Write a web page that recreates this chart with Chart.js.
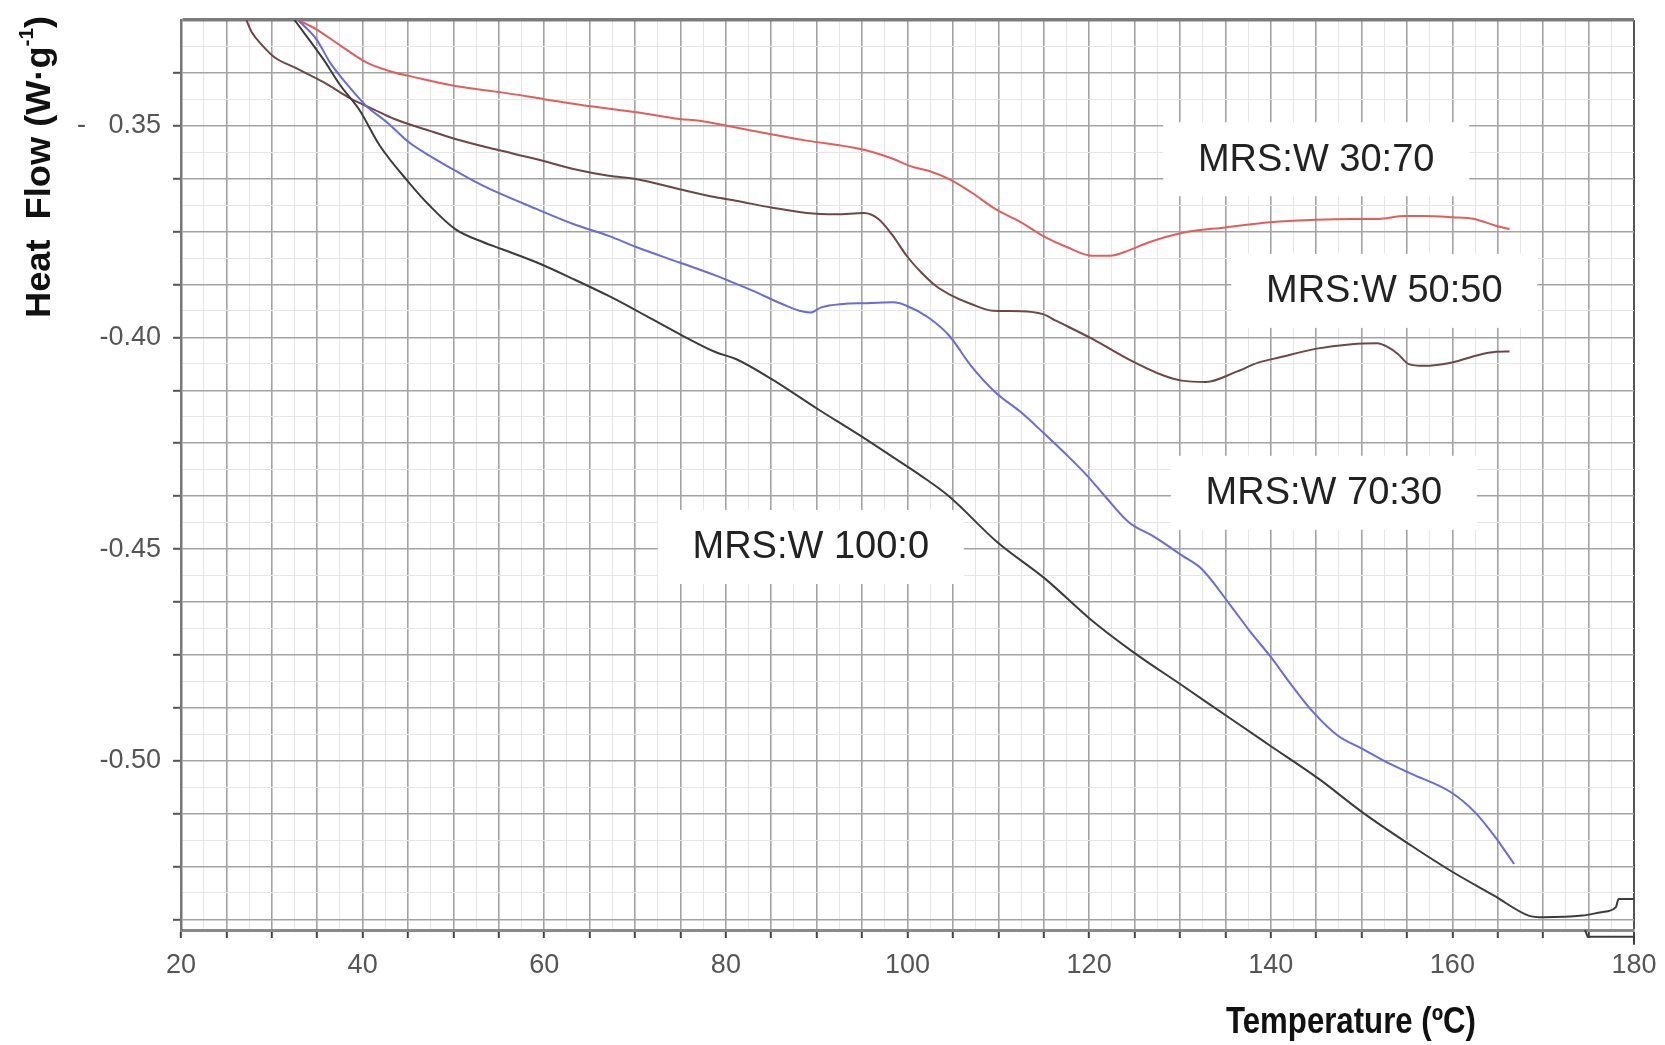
<!DOCTYPE html>
<html>
<head>
<meta charset="utf-8">
<script src="https://cdn.jsdelivr.net/npm/chart.js@4.4.0/dist/chart.umd.min.js"></script>
<style>
  html, body { margin: 0; padding: 0; background: #fff; }
</style>
</head>
<body>
<canvas id="chart" width="1665" height="1045"></canvas>
<script>
// DSC curves, temperature (°C) vs heat flow (W/g)
const t3070 = [32.9, 34.9, 37.6, 40.4, 43.5, 45.1, 50.2, 55.3, 60.0, 65.1, 70.2, 74.9, 77.1, 81.1, 85.0, 88.9, 94.8, 98.0, 100.7, 102.3, 104.6, 107.0, 109.7, 112.5, 114.9, 117.6, 120.4, 122.3, 124.3, 126.6, 130.2, 135.0, 140.2, 144.9, 148.9, 151.7, 154.8, 156.8, 160.0, 162.4, 164.8, 166.3];
const hf3070 = [-0.3250, -0.3272, -0.3311, -0.3350, -0.3374, -0.3382, -0.3406, -0.3421, -0.3437, -0.3454, -0.3468, -0.3484, -0.3488, -0.3504, -0.3520, -0.3535, -0.3555, -0.3575, -0.3598, -0.3606, -0.3626, -0.3657, -0.3697, -0.3728, -0.3760, -0.3787, -0.3807, -0.3807, -0.3795, -0.3775, -0.3753, -0.3740, -0.3727, -0.3722, -0.3720, -0.3720, -0.3713, -0.3713, -0.3716, -0.3720, -0.3736, -0.3744];

const t5050 = [27.2, 27.8, 29.0, 30.3, 32.9, 35.7, 38.8, 41.2, 43.5, 47.4, 50.2, 54.5, 59.2, 63.2, 67.1, 70.2, 74.9, 78.9, 81.1, 85.0, 88.9, 92.1, 95.2, 96.8, 98.4, 99.9, 101.5, 103.1, 104.6, 107.0, 109.4, 112.5, 114.9, 116.4, 120.4, 124.3, 128.2, 130.2, 132.9, 136.1, 138.7, 141.0, 144.9, 148.9, 151.7, 152.9, 154.0, 155.2, 156.8, 160.0, 162.8, 164.8, 166.3];
const hf5050 = [-0.3250, -0.3279, -0.3311, -0.3338, -0.3366, -0.3397, -0.3437, -0.3461, -0.3484, -0.3512, -0.3531, -0.3555, -0.3579, -0.3602, -0.3618, -0.3626, -0.3650, -0.3669, -0.3677, -0.3693, -0.3706, -0.3709, -0.3706, -0.3720, -0.3760, -0.3807, -0.3846, -0.3878, -0.3898, -0.3921, -0.3937, -0.3938, -0.3945, -0.3961, -0.4004, -0.4051, -0.4090, -0.4102, -0.4105, -0.4082, -0.4059, -0.4047, -0.4027, -0.4016, -0.4014, -0.4023, -0.4039, -0.4063, -0.4067, -0.4059, -0.4042, -0.4034, -0.4033];

const t7030 = [32.9, 34.9, 36.4, 38.4, 40.4, 42.7, 45.1, 47.4, 50.2, 53.3, 59.2, 63.2, 67.1, 70.2, 74.9, 78.9, 80.3, 83.0, 86.2, 88.1, 89.3, 90.5, 92.9, 95.2, 98.4, 99.9, 102.3, 104.6, 107.0, 109.7, 112.5, 114.9, 117.6, 119.8, 121.7, 124.4, 127.0, 130.3, 132.4, 135.6, 137.8, 139.9, 142.1, 144.7, 147.4, 150.1, 152.8, 155.5, 159.8, 162.5, 164.6, 166.8];
const hf7030 = [-0.3250, -0.3295, -0.3350, -0.3405, -0.3453, -0.3492, -0.3539, -0.3571, -0.3606, -0.3642, -0.3697, -0.3732, -0.3760, -0.3787, -0.3823, -0.3854, -0.3866, -0.3890, -0.3921, -0.3937, -0.3941, -0.3929, -0.3921, -0.3919, -0.3917, -0.3925, -0.3953, -0.3996, -0.4067, -0.4130, -0.4177, -0.4224, -0.4279, -0.4327, -0.4374, -0.4437, -0.4469, -0.4516, -0.4547, -0.4634, -0.4697, -0.4752, -0.4816, -0.4886, -0.4941, -0.4972, -0.5004, -0.5031, -0.5074, -0.5122, -0.5177, -0.5244];

const t1000 = [32.5, 35.65, 37.6, 39.6, 41.9, 45.1, 47.4, 50.2, 53.3, 55.3, 59.2, 63.2, 67.1, 70.2, 74.9, 78.9, 81.1, 85.0, 90.1, 94.8, 98.7, 101.5, 104.5, 109.9, 115.2, 120.1, 124.9, 130.3, 135.6, 139.9, 145.3, 150.1, 155.5, 159.8, 164.6, 168.4, 170.0, 174.3, 176.4, 178.0, 178.3, 180.0];
const hf1000 = [-0.3250, -0.3342, -0.3406, -0.3461, -0.3547, -0.3634, -0.3689, -0.3744, -0.3775, -0.3791, -0.3823, -0.3862, -0.3902, -0.3937, -0.3992, -0.4035, -0.4051, -0.4098, -0.4169, -0.4232, -0.4287, -0.4327, -0.4374, -0.4484, -0.4571, -0.4665, -0.4744, -0.4823, -0.4901, -0.4964, -0.5043, -0.5122, -0.5201, -0.5260, -0.5319, -0.5366, -0.5370, -0.5366, -0.5358, -0.5346, -0.5327, -0.5327];

// small step below the axis at the end of the run
const tStep = [174.6, 174.9, 180.0, 180.0];
const hfStep = [-0.5400, -0.5416, -0.5416, -0.5435];

// axis ticks
const xTickLabels = [20, 40, 60, 80, 100, 120, 140, 160, 180];
const yTickValues = [-0.35, -0.40, -0.45, -0.50];
const yTickLabels = ["-   0.35", "-0.40", "-0.45", "-0.50"];

// curve labels
const labelTexts = ["MRS:W 30:70", "MRS:W 50:50", "MRS:W 70:30", "MRS:W 100:0"];
const labelT = [145.0, 152.5, 145.85, 89.35];
const labelHF = [-0.3579, -0.3890, -0.4367, -0.4495];

const X_MIN = 20, X_MAX = 180, Y_MIN = -0.54, Y_MAX = -0.325;
const FONT = '"Liberation Sans", Arial, sans-serif';

function pts(t, v) {
  return t.map((x, i) => ({ x: x, y: v[i] }));
}

function isMult(v, step) {
  const r = v / step;
  return Math.abs(r - Math.round(r)) < 1e-6;
}

// grid every 2.5 °C (faint) / 5 °C, and every 0.00625 / 0.0125 W/g
const xGrid = [];
for (let k = 0; k <= 64; k++) xGrid.push(X_MIN + k * 2.5);
const yGrid = [Y_MIN];
for (let k = -86; k <= -52; k++) yGrid.push(k * 0.00625);

function drawFit(ctx, text, cx, cy, width) {
  const w = ctx.measureText(text).width;
  ctx.save();
  ctx.translate(cx, cy);
  ctx.scale(width / w, 1);
  ctx.textAlign = "center";
  ctx.fillText(text, 0, 0);
  ctx.restore();
}

const decorations = {
  id: "decorations",
  beforeDatasetsDraw(chart) {
    const ctx = chart.ctx;
    const xs = chart.scales.x, ys = chart.scales.y;
    ctx.save();
    labelTexts.forEach((txt, i) => {
      const px = xs.getPixelForValue(labelT[i]);
      const py = ys.getPixelForValue(labelHF[i]);
      ctx.fillStyle = "#ffffff";
      ctx.fillRect(px - 153, py - 37, 306, 74);
      ctx.fillStyle = "#222";
      ctx.font = "38px " + FONT;
      ctx.textAlign = "center";
      ctx.textBaseline = "middle";
      ctx.fillText(txt, px, py + 1);
    });
    ctx.restore();
  },
  afterDraw(chart) {
    const ctx = chart.ctx;
    ctx.save();
    ctx.fillStyle = "#111";
    ctx.textBaseline = "middle";

    // x title
    ctx.font = "bold 36px " + FONT;
    drawFit(ctx, "Temperature (ºC)", 1351, 1023, 250);

    // y title with superscript
    const main = "Heat  Flow (W·g", sup = "-1", end = ")";
    ctx.font = "bold 35px " + FONT;
    const w1 = ctx.measureText(main).width, w3 = ctx.measureText(end).width;
    ctx.font = "bold 20px " + FONT;
    const w2 = ctx.measureText(sup).width;
    const total = w1 + w2 + w3;
    const s = 302 / total;
    ctx.translate(40, 167);
    ctx.rotate(-Math.PI / 2);
    ctx.scale(s, 1);
    ctx.textAlign = "left";
    ctx.font = "bold 35px " + FONT;
    ctx.fillText(main, -total / 2, 0);
    ctx.font = "bold 20px " + FONT;
    ctx.fillText(sup, -total / 2 + w1, -13);
    ctx.font = "bold 35px " + FONT;
    ctx.fillText(end, -total / 2 + w1 + w2, 0);
    ctx.restore();
  }
};

const line = (data, color, extra) => Object.assign({
  data: data,
  borderColor: color,
  borderWidth: 2,
  pointRadius: 0,
  fill: false,
  cubicInterpolationMode: "monotone"
}, extra || {});

new Chart(document.getElementById("chart"), {
  type: "line",
  data: {
    datasets: [
      line(pts(t1000, hf1000), "#3c3c3c", { label: "MRS:W 100:0" }),
      line(pts(tStep, hfStep), "#3c3c3c", { label: "step", cubicInterpolationMode: "default", tension: 0, clip: false }),
      line(pts(t7030, hf7030), "#6a6ad8", { label: "MRS:W 70:30" }),
      line(pts(t5050, hf5050), "#6e4646", { label: "MRS:W 50:50" }),
      line(pts(t3070, hf3070), "#e25e5c", { label: "MRS:W 30:70" })
    ]
  },
  options: {
    responsive: false,
    animation: false,
    devicePixelRatio: 1,
    layout: { padding: { left: 0, top: 20, right: 31, bottom: 0 } },
    plugins: {
      legend: { display: false },
      tooltip: { enabled: false }
    },
    scales: {
      x: {
        type: "linear",
        min: X_MIN,
        max: X_MAX,
        afterBuildTicks: scale => { scale.ticks = xGrid.map(v => ({ value: v })); },
        afterFit: scale => { scale.height = 115; scale.paddingLeft = 0; scale.paddingRight = 0; },
        border: { color: "#8a8a8a", width: 3 },
        grid: {
          color: c => c.tick.value === X_MAX ? "#555" : (isMult(c.tick.value, 5) ? "#a3a3a3" : "#e6e6e6"),
          lineWidth: c => c.tick.value === X_MAX ? 2 : (isMult(c.tick.value, 5) ? 1.6 : 1),
          tickColor: c => isMult(c.tick.value, 5) ? "#444" : "rgba(0,0,0,0)",
          tickLength: 8,
          tickWidth: 2
        },
        ticks: {
          autoSkip: false,
          maxRotation: 0,
          padding: 11,
          color: "#555",
          font: { family: FONT, size: 27 },
          callback: v => xTickLabels.includes(v) ? String(v) : ""
        }
      },
      y: {
        type: "linear",
        min: Y_MIN,
        max: Y_MAX,
        afterBuildTicks: scale => { scale.ticks = yGrid.map(v => ({ value: v })); },
        afterFit: scale => { scale.width = 181; scale.paddingTop = 0; scale.paddingBottom = 0; },
        border: { color: "#777", width: 2.5 },
        grid: {
          color: c => Math.abs(c.tick.value - Y_MAX) < 1e-9 ? "#7c7c7c" : (isMult(c.tick.value, 0.0125) ? "#a3a3a3" : "#e6e6e6"),
          lineWidth: c => Math.abs(c.tick.value - Y_MAX) < 1e-9 ? 3.5 : (isMult(c.tick.value, 0.0125) ? 1.6 : 1),
          tickColor: c => isMult(c.tick.value, 0.0125) && c.tick.value < Y_MAX - 1e-9 ? "#555" : "rgba(0,0,0,0)",
          tickLength: 8,
          tickWidth: 2
        },
        ticks: {
          autoSkip: false,
          padding: 12,
          color: "#555",
          font: { family: FONT, size: 27 },
          callback: v => {
            const i = yTickValues.findIndex(t => Math.abs(t - v) < 1e-9);
            return i >= 0 ? yTickLabels[i] : "";
          }
        }
      }
    }
  },
  plugins: [decorations]
});
</script>
</body>
</html>
